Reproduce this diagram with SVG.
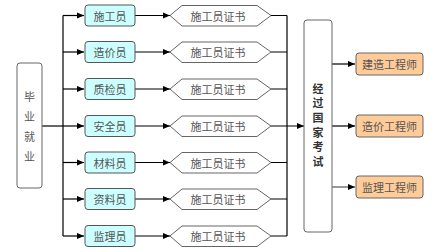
<svg xmlns="http://www.w3.org/2000/svg" width="434" height="252" viewBox="0 0 434 252">
<defs>
<marker id="arr" viewBox="0 0 8 8" refX="8" refY="4" markerWidth="7" markerHeight="7" markerUnits="userSpaceOnUse" orient="auto">
<path d="M0,0.5 L8,4 L0,7.5 Z" fill="#000"/>
</marker>
<polygon id="hex" points="0,0 12,-10 87,-10 101,0 87,10.5 12,10.5"/>
</defs>
<style>
text{font-family:"Noto Sans CJK SC","Noto Sans",sans-serif;font-size:11px;fill:#555;text-anchor:middle;dominant-baseline:central}
.vt{writing-mode:vertical-rl;text-anchor:middle}
.role{fill:#ccffff;stroke:#555;stroke-width:1}
.eng{fill:#ffcc99;stroke:#666;stroke-width:1}
.plain{fill:#fff;stroke:#666;stroke-width:1}
.hex{fill:#fff;stroke:#666;stroke-width:1}
.c{fill:none;stroke:#000;stroke-width:1.2}
.bold{font-weight:bold;fill:#333}
</style>
<g id="connectors">
<path class="c" d="M42,126 H63"/>
<path class="c" d="M63,15.5 V236"/>
<path class="c" d="M63,15.5 H84" marker-end="url(#arr)"/>
<path class="c" d="M63,52 H84" marker-end="url(#arr)"/>
<path class="c" d="M63,89 H84" marker-end="url(#arr)"/>
<path class="c" d="M63,126 H84" marker-end="url(#arr)"/>
<path class="c" d="M63,162.5 H84" marker-end="url(#arr)"/>
<path class="c" d="M63,199 H84" marker-end="url(#arr)"/>
<path class="c" d="M63,236 H84" marker-end="url(#arr)"/>
<path class="c" d="M135,15.5 H170" marker-end="url(#arr)"/>
<path class="c" d="M135,52 H170" marker-end="url(#arr)"/>
<path class="c" d="M135,89 H170" marker-end="url(#arr)"/>
<path class="c" d="M135,126 H170" marker-end="url(#arr)"/>
<path class="c" d="M135,162.5 H170" marker-end="url(#arr)"/>
<path class="c" d="M135,199 H170" marker-end="url(#arr)"/>
<path class="c" d="M135,236 H170" marker-end="url(#arr)"/>
<path class="c" d="M271,15.5 H287 M271,52 H287 M271,89 H287 M271,162.5 H287 M271,199 H287 M271,236 H287"/>
<path class="c" d="M287,15.5 V236"/>
<path class="c" d="M271,126 H304" marker-end="url(#arr)"/>
<path class="c" d="M332,64 H355" marker-end="url(#arr)"/>
<path class="c" d="M332,126 H355" marker-end="url(#arr)"/>
<path class="c" d="M332,187 H355" marker-end="url(#arr)" style="stroke:#555"/>
</g>
<g id="start">
<rect class="plain" x="17" y="63" width="25" height="125" rx="3"/>
<text class="vt" x="29.5" y="131.5" style="letter-spacing:9px">毕业就业</text>
</g>
<g id="role1"><rect class="role" x="85" y="5" width="50" height="21" rx="3"/><text x="110" y="15.5">施工员</text></g>
<g id="role2"><rect class="role" x="85" y="41.5" width="50" height="21" rx="3"/><text x="110" y="52">造价员</text></g>
<g id="role3"><rect class="role" x="85" y="78.5" width="50" height="21" rx="3"/><text x="110" y="89">质检员</text></g>
<g id="role4"><rect class="role" x="85" y="115.5" width="50" height="21" rx="3"/><text x="110" y="126">安全员</text></g>
<g id="role5"><rect class="role" x="85" y="152" width="50" height="21" rx="3"/><text x="110" y="162.5">材料员</text></g>
<g id="role6"><rect class="role" x="85" y="188.5" width="50" height="21" rx="3"/><text x="110" y="199">资料员</text></g>
<g id="role7"><rect class="role" x="85" y="225.5" width="50" height="21" rx="3"/><text x="110" y="236">监理员</text></g>
<g id="cert1"><use href="#hex" class="hex" x="170" y="15.5"/><text x="218" y="15.5">施工员证书</text></g>
<g id="cert2"><use href="#hex" class="hex" x="170" y="52"/><text x="218" y="52">施工员证书</text></g>
<g id="cert3"><use href="#hex" class="hex" x="170" y="89"/><text x="218" y="89">施工员证书</text></g>
<g id="cert4"><use href="#hex" class="hex" x="170" y="126"/><text x="218" y="126">施工员证书</text></g>
<g id="cert5"><use href="#hex" class="hex" x="170" y="162.5"/><text x="218" y="162.5">施工员证书</text></g>
<g id="cert6"><use href="#hex" class="hex" x="170" y="199"/><text x="218" y="199">施工员证书</text></g>
<g id="cert7"><use href="#hex" class="hex" x="170" y="236"/><text x="218" y="236">施工员证书</text></g>
<g id="exam">
<rect class="plain" x="304" y="20" width="28" height="212" rx="3"/>
<text class="vt bold" x="318" y="127" style="letter-spacing:3.6px">经过国家考试</text>
</g>
<g id="eng1"><rect class="eng" x="356" y="53" width="67" height="22" rx="3"/><text x="389.5" y="64">建造工程师</text></g>
<g id="eng2"><rect class="eng" x="356" y="115" width="67" height="22" rx="3"/><text x="389.5" y="126">造价工程师</text></g>
<g id="eng3"><rect class="eng" x="356" y="176" width="67" height="22" rx="3"/><text x="389.5" y="187">监理工程师</text></g>
</svg>
